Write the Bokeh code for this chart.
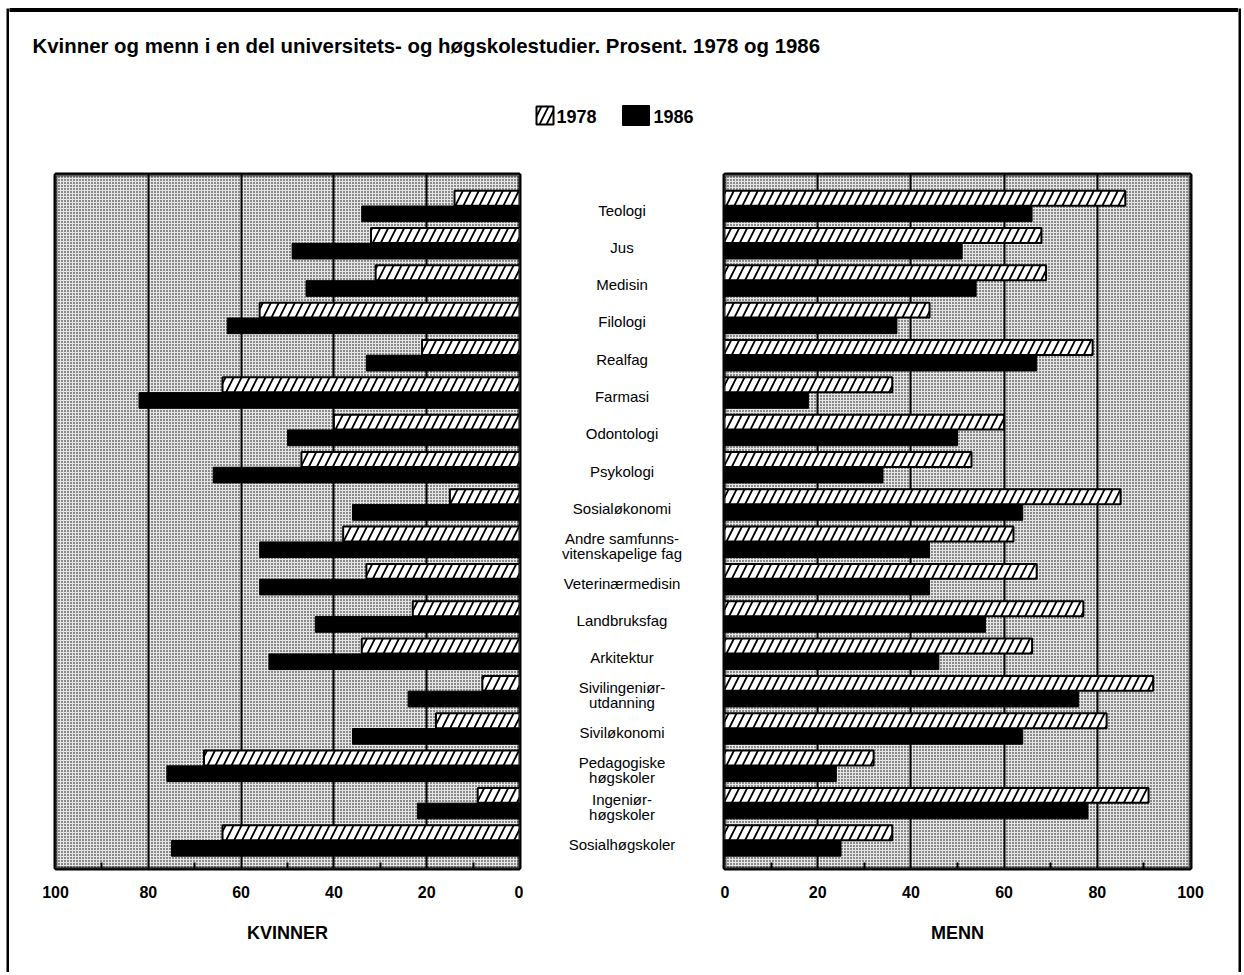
from bokeh.plotting import figure
from bokeh.models import ColumnDataSource, Range1d, FixedTicker, BoxAnnotation
from bokeh.layouts import row, column
from bokeh.transform import dodge
from bokeh.core.properties import value
from bokeh.embed import file_html
from bokeh.resources import INLINE

# ---------------- data ----------------
title = "Kvinner og menn i en del universitets- og høgskolestudier. Prosent. 1978 og 1986"
years = ["1978", "1986"]
categories = [
    "Teologi", "Jus", "Medisin", "Filologi", "Realfag", "Farmasi", "Odontologi",
    "Psykologi", "Sosialøkonomi", "Andre samfunns-\nvitenskapelige fag",
    "Veterinærmedisin", "Landbruksfag", "Arkitektur", "Sivilingeniør-\nutdanning",
    "Siviløkonomi", "Pedagogiske\nhøgskoler", "Ingeniør-\nhøgskoler", "Sosialhøgskoler",
]
kvinner_1978 = [14, 32, 31, 56, 21, 64, 40, 47, 15, 38, 33, 23, 34, 8, 18, 68, 9, 64]
kvinner_1986 = [34, 49, 46, 63, 33, 82, 50, 66, 36, 56, 56, 44, 54, 24, 36, 76, 22, 75]
menn_1978 = [86, 68, 69, 44, 79, 36, 60, 53, 85, 62, 67, 77, 66, 92, 82, 32, 91, 36]
menn_1986 = [66, 51, 54, 37, 67, 18, 50, 34, 64, 44, 44, 56, 46, 76, 64, 24, 78, 25]
x_ticks = [0, 20, 40, 60, 80, 100]
x_minor = [10, 30, 50, 70, 90]
side_labels = ["KVINNER", "MENN"]

FONT = "Liberation Sans"

idx = list(range(len(categories)))
Y_TOP, Y_BOT = -0.844, 17.75


def blank(width, height, **kw):
    f = figure(width=width, height=height, toolbar_location=None, output_backend="svg",
               x_axis_location=None, y_axis_location=None, min_border=0,
               outline_line_color=None, **kw)
    f.grid.visible = False
    return f


def strip(width, height, color):
    f = blank(width, height)
    f.background_fill_color = color
    f.border_fill_color = color
    return f


# ---------------- header ----------------
HW, HH = 1229, 160
hdr = blank(HW, HH, x_range=Range1d(0, HW), y_range=Range1d(HH, 0))
# top border line of the outer frame (page y 8..11)
hdr.quad(left=[0], right=[HW], top=[8], bottom=[11], color="black")
hdr.text(x=[23], y=[45], text=[title], text_font=value(FONT), text_font_style="bold",
         text_font_size="20.4px", text_baseline="middle", text_align="left", text_color="black")
# legend (page x = header x + 9)
hdr.quad(left=[527], right=[544], top=[106], bottom=[124], fill_color="white",
         hatch_pattern="/", hatch_color="black", hatch_scale=14, hatch_weight=1.8,
         line_color="black", line_width=2)
hdr.quad(left=[613], right=[640], top=[105], bottom=[125], color="black")
hdr.text(x=[547, 644], y=[116, 116], text=years, text_font=value(FONT), text_font_style="bold",
         text_font_size="18px", text_baseline="middle", text_align="left", text_color="black")

# ---------------- panels ----------------
PH = 812
yr = Range1d(Y_BOT, Y_TOP)


def panel(v78, v86, xr, width, mbl, mbr, label):
    src = ColumnDataSource(dict(y=idx, v78=v78, v86=v86))
    p = figure(width=width, height=PH, x_range=xr, y_range=yr, toolbar_location=None,
               output_backend="svg", y_axis_location=None,
               min_border_left=mbl, min_border_right=mbr, min_border_top=14, min_border_bottom=104)
    p.outline_line_color = "black"
    p.outline_line_width = 4
    p.background_fill_color = "#e6e6e6"
    p.add_layout(BoxAnnotation(left=0, right=100, top=Y_TOP, bottom=Y_BOT, level="image",
                               fill_color="#e6e6e6", hatch_pattern="dot", hatch_color="black",
                               hatch_scale=3, hatch_weight=1.0, line_color=None))
    p.hbar(y=dodge("y", -0.21), left=0, right="v78", height=0.40, source=src,
           fill_color="white", hatch_pattern="/", hatch_color="black", hatch_scale=16,
           hatch_weight=1.8, line_color="black", line_width=2)
    p.hbar(y=dodge("y", 0.21), left=0, right="v86", height=0.42, source=src,
           fill_color="black", line_color="black")
    p.ygrid.visible = False
    p.xgrid.ticker = FixedTicker(ticks=[20, 40, 60, 80])
    p.xgrid.grid_line_color = "black"
    p.xgrid.grid_line_width = 2
    ax = p.xaxis[0]
    ax.ticker = FixedTicker(ticks=x_ticks, minor_ticks=x_minor)
    ax.axis_line_color = None
    ax.major_tick_in = 0
    ax.major_tick_out = 0
    ax.minor_tick_in = 6
    ax.minor_tick_out = 0
    ax.minor_tick_line_width = 2
    ax.minor_tick_line_color = "black"
    ax.major_label_standoff = 17
    ax.major_label_text_font = FONT
    ax.major_label_text_font_style = "bold"
    ax.major_label_text_font_size = "16px"
    ax.major_label_text_color = "black"
    ax.axis_label = label
    ax.axis_label_standoff = 22
    ax.axis_label_text_font = FONT
    ax.axis_label_text_font_style = "bold"
    ax.axis_label_text_font_size = "18px"
    ax.axis_label_text_color = "black"
    return p


left = panel(kvinner_1978, kvinner_1986, Range1d(100, 0), 514, 46, 4, side_labels[0])
right = panel(menn_1978, menn_1986, Range1d(0, 100), 518, 4, 48, side_labels[1])

mid = figure(width=197, height=PH, x_range=Range1d(0, 1), y_range=yr, toolbar_location=None,
             output_backend="svg", x_axis_location=None, y_axis_location=None,
             min_border_left=0, min_border_right=0, min_border_top=14, min_border_bottom=104,
             outline_line_color=None)
mid.grid.visible = False
mid.text(x=[0.5] * len(categories), y=idx, text=categories, text_font=value(FONT),
         text_font_size="15px", text_align="center", text_baseline="middle",
         text_line_height=0.85, y_offset=4, text_color="black")

TH = HH + PH
inner = column(hdr, row(left, mid, right))
lborder = column(strip(3, 8, "white"), strip(3, TH - 8, "black"))
rborder = column(strip(3, 8, "white"), strip(3, TH - 8, "black"))
page = row(strip(6, TH, "white"), lborder, inner, rborder, strip(3, TH, "white"))

with open("out.html", "w") as f:
    f.write(file_html(page, INLINE))
